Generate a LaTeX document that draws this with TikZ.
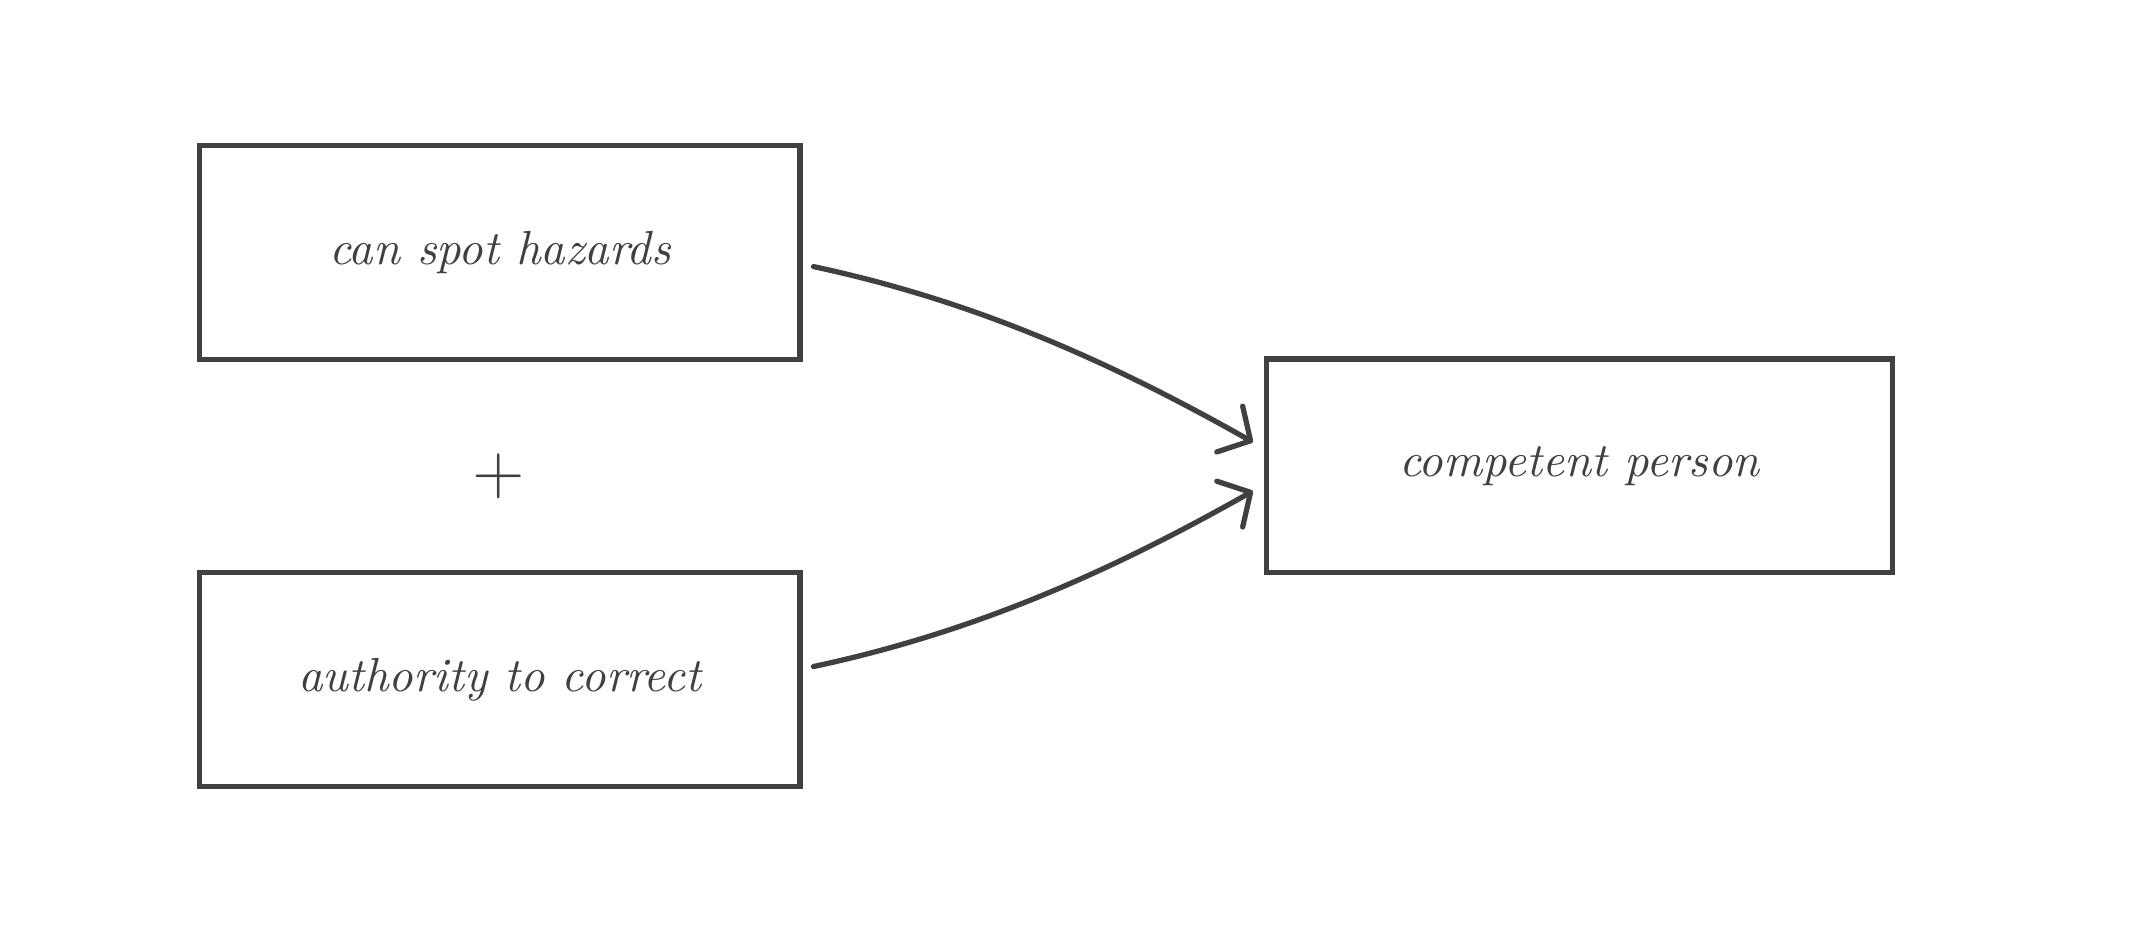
\documentclass[tikz,border=0pt]{standalone}
\usetikzlibrary{arrows.meta}
\begin{document}
\begin{tikzpicture}[x=0.01cm,y=-0.01cm,
  box/.style={draw=ink,line width=1.1pt,minimum width=4.41cm,minimum height=1.57cm,inner sep=0pt,font=\itshape\normalsize,text=ink},
  conn/.style={draw=ink,line width=1.1pt,line cap=round,-{Straight Barb[length=5pt,width=11pt,line width=1.1pt,round]}}]
\definecolor{ink}{HTML}{404040}
\useasboundingbox (0,0) rectangle (1568,686);
\node[box] (a) at (367.5,185.5) {can spot hazards};
\node[box] (b) at (367.5,499.5) {authority to correct};
\node[box,minimum width=4.60cm] (c) at (1161,342.5) {competent person};
\node[font=\Large,text=ink] (p) at (367,350) {+};
\coordinate (cs1) at (598,196);
\coordinate (cs2) at (598,490);
\coordinate (ce1) at (921,325);
\coordinate (ce2) at (921,361);
\draw[conn] (cs1) .. controls (720,222) and (820,268) .. (ce1);
\draw[conn] (cs2) .. controls (720,464) and (820,418) .. (ce2);
\end{tikzpicture}
\end{document}
